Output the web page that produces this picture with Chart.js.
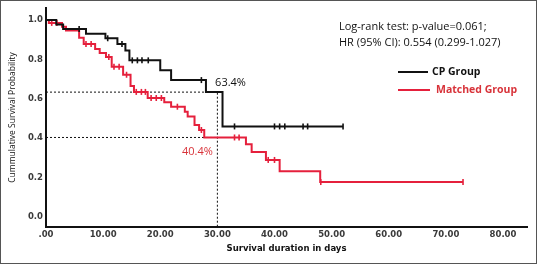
<!DOCTYPE html>
<html>
<head>
<meta charset="utf-8">
<script src="https://cdn.jsdelivr.net/npm/chart.js@4.4.1/dist/chart.umd.min.js"></script>
<style>
  html, body { margin: 0; padding: 0; background: #fff; }
  #wrap { width: 538px; height: 265px; position: relative; }
</style>
</head>
<body>
<div id="wrap"><canvas id="km" width="538" height="265"></canvas></div>
<script>
// --- Data ---
// CP group: step times (days) and survival after each step
const cpDays = [0, 1.8, 3.0, 7.0, 10.4, 12.5, 13.9, 14.6, 20.0, 21.9, 28.0, 30.9, 52.0];
const cpSurv = [1.0, 0.977, 0.954, 0.930, 0.907, 0.878, 0.845, 0.795, 0.745, 0.695, 0.634, 0.460, 0.460];
const cpCensored = [5.8, 10.8, 13.3, 15.1, 16.0, 16.8, 17.9, 27.2, 33.0, 40.0, 40.9, 41.8, 45.0, 45.8, 52.0];

// Matched group
const mgDays = [0, 0.5, 2.8, 3.5, 5.8, 6.6, 8.6, 9.4, 10.5, 11.5, 13.5, 14.8, 15.4, 17.8, 20.7, 21.9, 24.3, 24.8, 26.0, 26.8, 27.7, 35.0, 36.0, 38.5, 40.9, 48.0, 73.0];
const mgSurv = [1.0, 0.985, 0.966, 0.946, 0.910, 0.878, 0.853, 0.832, 0.812, 0.762, 0.722, 0.665, 0.635, 0.604, 0.582, 0.560, 0.535, 0.510, 0.467, 0.442, 0.404, 0.370, 0.330, 0.290, 0.233, 0.178, 0.178];
const mgCensored = [1.0, 1.9, 7.0, 7.9, 11.0, 11.9, 12.8, 14.1, 15.8, 16.7, 17.4, 18.4, 19.3, 20.2, 23.0, 27.2, 33.0, 33.8, 38.9, 40.0, 48.1, 73.0];

// reference marks
const refDay = 30;
const refLevels = [0.634, 0.404];
const refLabels = ['63.4%', '40.4%'];

// axes
const xTicks = [0, 10, 20, 30, 40, 50, 60, 70, 80];
const xTickLabels = ['.00', '10.00', '20.00', '30.00', '40.00', '50.00', '60.00', '70.00', '80.00'];
const yTicks = [0, 0.2, 0.4, 0.6, 0.8, 1.0];

const statLines = ['Log-rank test: p-value=0.061;', 'HR (95% CI): 0.554 (0.299-1.027)'];
const groupNames = ['CP Group', 'Matched Group'];

const BLACK = '#111111';
const RED = '#e5203c';
const RED_TEXT = '#d8333a';

// --- Helpers ---
function toPoints(xs, ys) {
  return xs.map((x, i) => ({ x: x, y: ys[i] }));
}

// survival value at day t (step function)
function survAt(days, surv, t) {
  let v = surv[0];
  for (let i = 0; i < days.length; i++) {
    if (days[i] <= t) v = surv[i];
  }
  return v;
}

function censorPoints(days, surv, censored) {
  return censored.map(t => ({ x: t, y: survAt(days, surv, t) }));
}

const Y_MIN = -0.05;

// text, legend and frame
const decorPlugin = {
  id: 'decor',
  afterDatasetsDraw(chart) {
    const ctx = chart.ctx;
    const xs = chart.scales.x, ys = chart.scales.y;
    ctx.save();
    ctx.textBaseline = 'middle';

    // percent labels
    ctx.font = '11px "Open Sans"';
    ctx.fillStyle = BLACK;
    ctx.textAlign = 'left';
    ctx.fillText(refLabels[0], xs.getPixelForValue(29.6), ys.getPixelForValue(0.68));
    ctx.fillStyle = RED_TEXT;
    ctx.textAlign = 'right';
    ctx.fillText(refLabels[1], xs.getPixelForValue(29.2), ys.getPixelForValue(0.33));

    // stats text
    ctx.fillStyle = '#111';
    ctx.textAlign = 'left';
    ctx.font = '11px "Open Sans"';
    ctx.fillText(statLines[0], 339, 27);
    ctx.fillText(statLines[1], 339, 43);

    // legend
    ctx.lineWidth = 2;
    ctx.strokeStyle = BLACK;
    ctx.beginPath(); ctx.moveTo(398, 72); ctx.lineTo(428, 72); ctx.stroke();
    ctx.strokeStyle = RED;
    ctx.beginPath(); ctx.moveTo(398, 90); ctx.lineTo(430, 90); ctx.stroke();
    ctx.font = 'bold 10.5px "Open Sans"';
    ctx.fillStyle = BLACK;
    ctx.fillText(groupNames[0], 432, 72);
    ctx.fillStyle = RED_TEXT;
    ctx.fillText(groupNames[1], 436, 90);

    // frame
    ctx.strokeStyle = '#555';
    ctx.lineWidth = 1;
    ctx.strokeRect(0.5, 0.5, 536, 263);
    ctx.restore();
  }
};

const refDash = [2, 2];

const ctx = document.getElementById('km');
new Chart(ctx, {
  type: 'line',
  data: {
    datasets: [
      {
        label: groupNames[0] + ' censored',
        data: censorPoints(cpDays, cpSurv, cpCensored),
        showLine: false,
        pointStyle: 'line',
        rotation: 90,
        pointRadius: 3,
        pointBorderWidth: 1.6,
        pointBorderColor: BLACK,
        pointBackgroundColor: BLACK
      },
      {
        label: groupNames[0],
        data: toPoints(cpDays, cpSurv),
        stepped: true,
        borderColor: BLACK,
        borderWidth: 2,
        pointRadius: 0,
        fill: false
      },
      {
        label: groupNames[1] + ' censored',
        data: censorPoints(mgDays, mgSurv, mgCensored),
        showLine: false,
        pointStyle: 'line',
        rotation: 90,
        pointRadius: 3,
        pointBorderWidth: 1.6,
        pointBorderColor: RED,
        pointBackgroundColor: RED
      },
      {
        label: groupNames[1],
        data: toPoints(mgDays, mgSurv),
        stepped: true,
        borderColor: RED,
        borderWidth: 2,
        pointRadius: 0,
        fill: false
      },
      {
        label: 'ref1',
        data: [{ x: 0, y: refLevels[0] }, { x: refDay, y: refLevels[0] }, { x: refDay, y: Y_MIN }],
        borderColor: BLACK,
        borderWidth: 1,
        borderDash: refDash,
        pointRadius: 0
      },
      {
        label: 'ref2',
        data: [{ x: 0, y: refLevels[1] }, { x: refDay, y: refLevels[1] }],
        borderColor: BLACK,
        borderWidth: 1,
        borderDash: refDash,
        pointRadius: 0
      }
    ]
  },
  options: {
    responsive: false,
    animation: false,
    devicePixelRatio: 1,
    layout: { padding: { top: 8, right: 11, left: 0, bottom: 0 } },
    plugins: {
      legend: { display: false },
      tooltip: { enabled: false }
    },
    scales: {
      x: {
        type: 'linear',
        min: 0,
        max: 84.2,
        afterBuildTicks: (scale) => { scale.ticks = xTicks.map(v => ({ value: v })); },
        afterFit: (scale) => { scale.height = 38; },
        ticks: {
          padding: 3,
          color: '#3a3a3a',
          font: { family: 'DejaVu Sans', size: 8.5, weight: 'bold' },
          callback: (v, i) => xTickLabels[i]
        },
        grid: { display: false, drawTicks: false },
        border: { color: BLACK, width: 2 },
        title: {
          display: true,
          text: 'Survival duration in days',
          color: '#111',
          font: { family: 'DejaVu Sans', size: 8.5, weight: 'bold' },
          padding: { top: 0, bottom: 11 }
        }
      },
      y: {
        type: 'linear',
        min: Y_MIN,
        max: 1.06,
        afterBuildTicks: (scale) => { scale.ticks = yTicks.map(v => ({ value: v })); },
        afterFit: (scale) => { scale.width = 46; },
        ticks: {
          padding: 3,
          color: '#3a3a3a',
          font: { family: 'DejaVu Sans', size: 8.5, weight: 'bold' },
          callback: (v) => v.toFixed(1)
        },
        grid: { display: false, drawTicks: false },
        border: { color: BLACK, width: 2 },
        title: {
          display: true,
          text: 'Cummulative Survival Probability',
          color: '#111',
          font: { family: 'Open Sans', size: 8.5 },
          padding: { top: 7, bottom: 0 }
        }
      }
    }
  },
  plugins: [decorPlugin]
});
</script>
</body>
</html>
